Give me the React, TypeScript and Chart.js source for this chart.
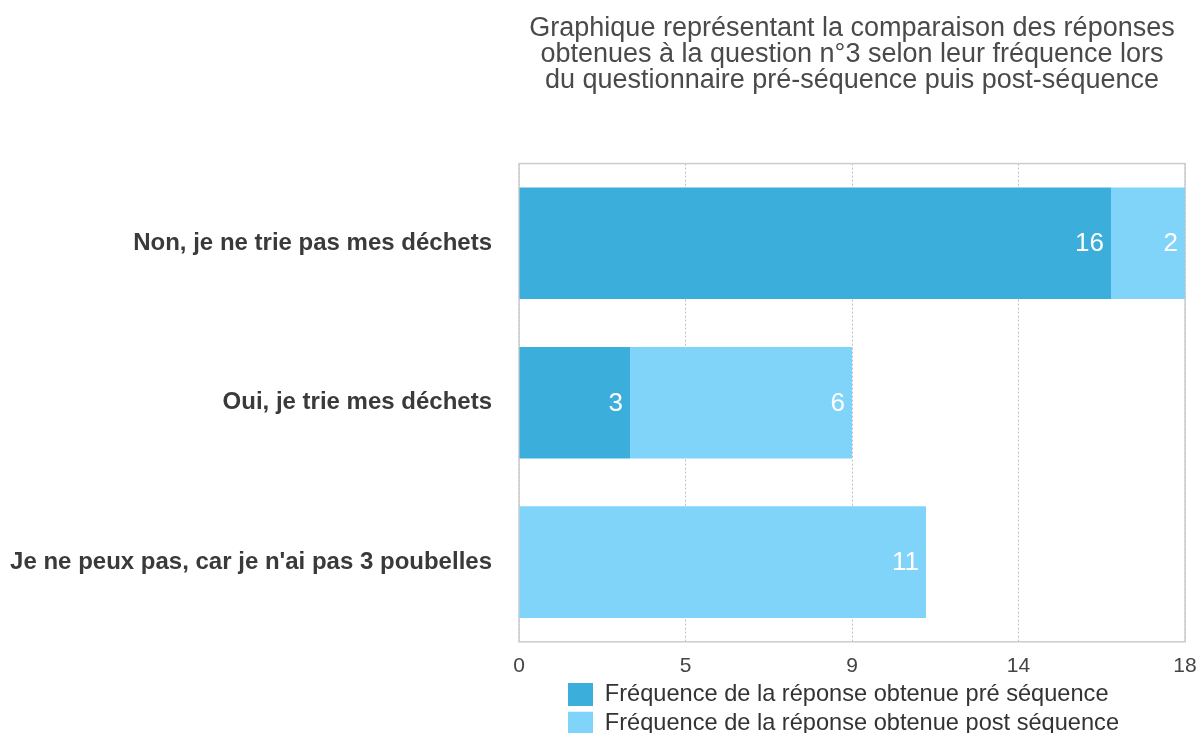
import React, { useEffect, useRef } from "react";
import { Chart, registerables } from "chart.js";

Chart.register(...registerables);

const categories = [
  "Non, je ne trie pas mes déchets",
  "Oui, je trie mes déchets",
  "Je ne peux pas, car je n'ai pas 3 poubelles",
];
const preValues = [16, 3, 0];
const postValues = [2, 6, 11];
const seriesNames = [
  "Fréquence de la réponse obtenue pré séquence",
  "Fréquence de la réponse obtenue post séquence",
];
const xTickLabels = ["0", "5", "9", "14", "18"];
const titleLines = [
  "Graphique représentant la comparaison des réponses",
  "obtenues à la question n°3 selon leur fréquence lors",
  "du questionnaire pré-séquence puis post-séquence",
];

const PRE_COLOR = "#3CAEDB";
const POST_COLOR = "#80D4FA";

const framePlugin = {
  id: "frame",
  beforeDatasetsDraw(chart: any) {
    const { ctx, chartArea } = chart;
    ctx.save();
    ctx.strokeStyle = "#cccccc";
    ctx.lineWidth = 1.5;
    ctx.strokeRect(
      chartArea.left,
      chartArea.top,
      chartArea.right - chartArea.left,
      chartArea.bottom - chartArea.top
    );
    ctx.restore();
  },
};

const valueLabelPlugin = {
  id: "valueLabels",
  afterDatasetsDraw(chart: any) {
    const { ctx } = chart;
    ctx.save();
    ctx.fillStyle = "#ffffff";
    ctx.font = "26px 'Liberation Sans', Arial, sans-serif";
    ctx.textAlign = "right";
    ctx.textBaseline = "middle";
    chart.data.datasets.forEach((ds: any, di: number) => {
      const meta = chart.getDatasetMeta(di);
      meta.data.forEach((el: any, i: number) => {
        const v = ds.data[i];
        if (!v) return;
        ctx.fillText(String(v), el.x - 7, el.y + 1);
      });
    });
    ctx.restore();
  },
};

const legendShiftPlugin = {
  id: "legendShift",
  afterLayout(chart: any) {
    const lg = chart.legend;
    if (lg) {
      lg.left = chart.chartArea.left + 44;
    }
  },
};

export default function App() {
  const canvasRef = useRef<HTMLCanvasElement | null>(null);

  useEffect(() => {
    if (!canvasRef.current) return;
    Chart.defaults.font.family = "'Liberation Sans', Arial, sans-serif";
    const chart = new Chart(canvasRef.current, {
      type: "bar",
      data: {
        labels: categories,
        datasets: [
          {
            label: seriesNames[0],
            data: preValues,
            backgroundColor: PRE_COLOR,
            borderWidth: 0,
            categoryPercentage: 0.7,
            barPercentage: 1,
          },
          {
            label: seriesNames[1],
            data: postValues,
            backgroundColor: POST_COLOR,
            borderWidth: 0,
            categoryPercentage: 0.7,
            barPercentage: 1,
          },
        ],
      },
      options: {
        indexAxis: "y",
        animation: false,
        responsive: false,
        layout: { padding: { left: 0, right: 0, top: 0, bottom: 0 } },
        scales: {
          x: {
            stacked: true,
            min: 0,
            max: 18,
            z: 1,
            grid: {
              color: "rgba(0,0,0,0.25)",
              drawTicks: false,
              lineWidth: 1,
            },
            border: { display: false, dash: [2, 2] },
            ticks: {
              stepSize: 4.5,
              padding: 12,
              color: "#444444",
              font: { size: 21 },
              callback: (_v: any, index: number) => xTickLabels[index],
            },
            afterFit: (scale: any) => {
              scale.height = 36;
              scale.paddingRight = 16;
            },
          },
          y: {
            stacked: true,
            grid: { display: false, drawTicks: false },
            border: { display: false },
            ticks: {
              padding: 27,
              color: "#3a3a3a",
              font: { size: 24, weight: "bold" },
            },
            afterFit: (scale: any) => {
              scale.width = 519;
            },
          },
        },
        plugins: {
          title: {
            display: true,
            text: titleLines,
            fullSize: false,
            color: "#4a4a4a",
            font: { size: 27, weight: "normal", lineHeight: 0.97 },
            padding: { top: 15, bottom: 70 },
          },
          legend: {
            display: true,
            position: "bottom",
            align: "start",
            fullSize: false,
            labels: {
              boxWidth: 25,
              boxHeight: 23,
              padding: 5,
              color: "#333333",
              font: { size: 23.6 },
            },
          },
          tooltip: { enabled: false },
        },
      },
      plugins: [framePlugin, valueLabelPlugin, legendShiftPlugin],
    } as any);
    return () => chart.destroy();
  }, []);

  return (
    <div
      style={{
        position: "absolute",
        left: 0,
        top: 0,
        width: 1201,
        height: 733,
        overflow: "hidden",
        background: "#ffffff",
      }}
    >
      <canvas
        ref={canvasRef}
        width={1201}
        height={745}
        style={{ display: "block" }}
      />
    </div>
  );
}
